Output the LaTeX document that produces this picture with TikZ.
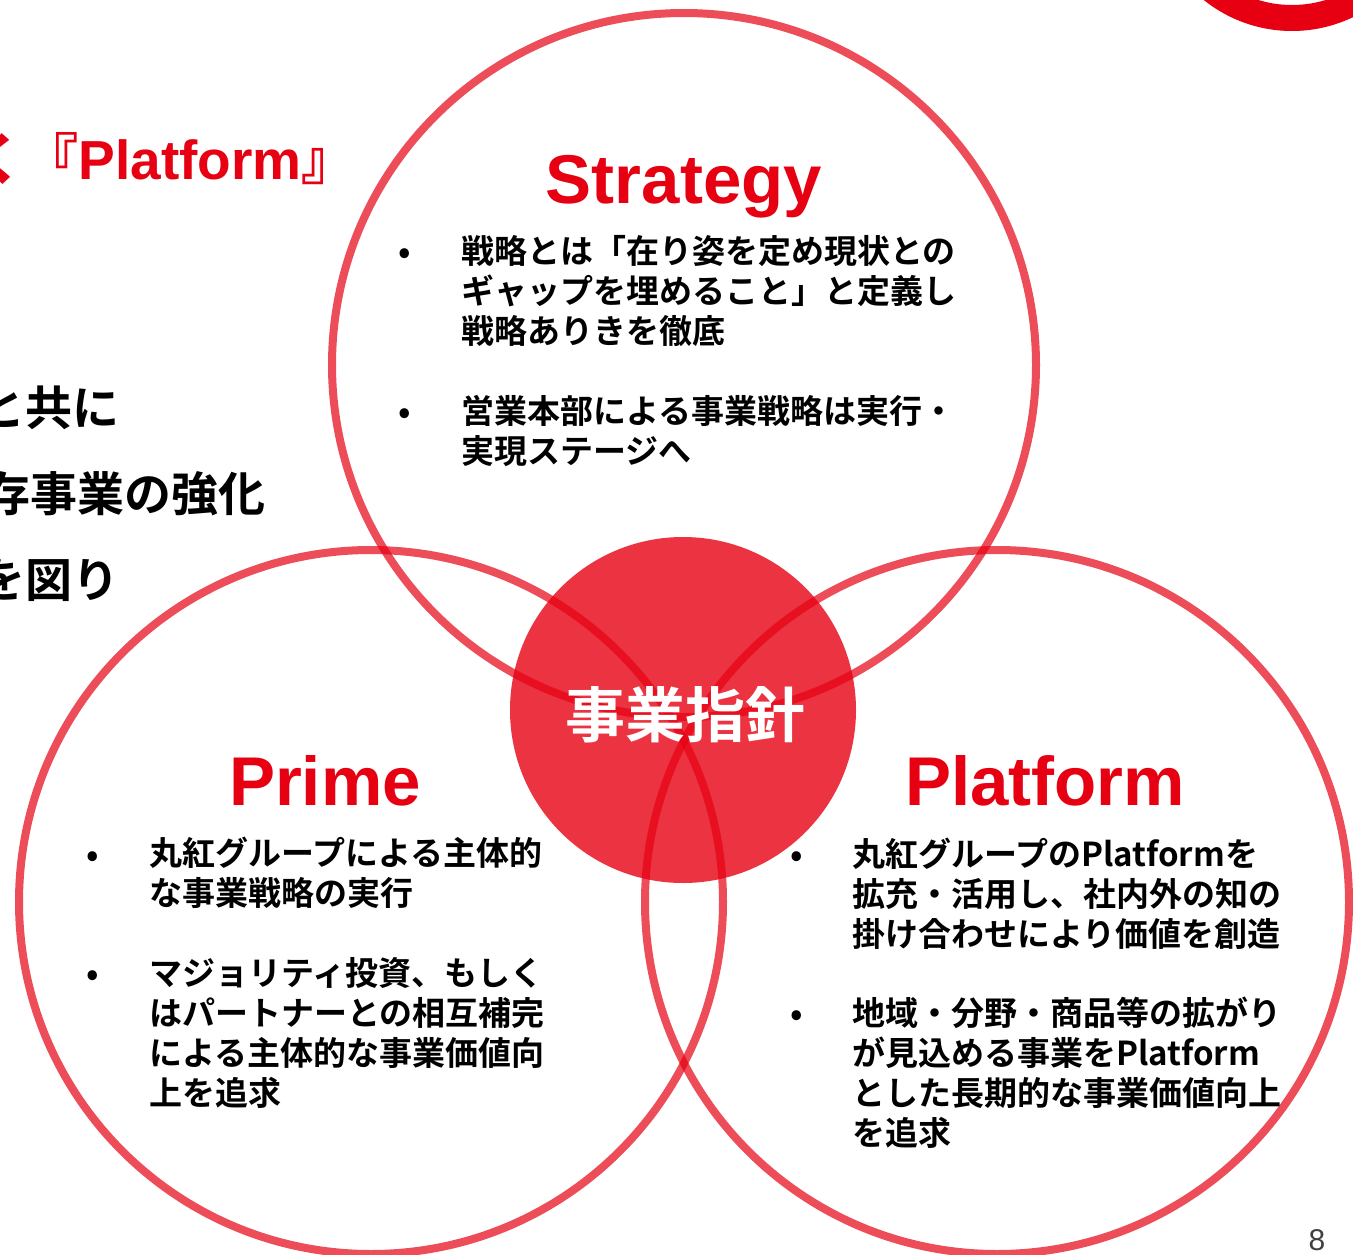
\documentclass[tikz,border=0pt]{standalone}
\usepackage{fontspec}
\setmainfont{Liberation Sans}
\newfontfamily\jpb{Noto Sans CJK JP Bold}
\definecolor{mred}{HTML}{E60012}

\begin{document}
\begin{tikzpicture}[x=1pt, y=-1pt,
    ring/.style={draw=mred, draw opacity=0.7, line width=8pt},
    head/.style={text=mred, font=\fontsize{69}{69}\selectfont\bfseries, inner sep=0, anchor=base},
    body/.style={font=\jpb\fontsize{33}{40}\selectfont, align=left, inner sep=0, anchor=base west},
    dot/.style={font=\jpb\fontsize{33}{40}\selectfont, inner sep=0, anchor=base},
    lead/.style={font=\jpb\fontsize{47}{47}\selectfont, inner sep=0, anchor=east}]
    \useasboundingbox (0,0) rectangle (1353,1255);
    % logo ring, top right
    \draw[mred, line width=26pt] (1292,-110) circle (128);
    % left column, cut by the page edge
    \node[text=mred, font=\fontsize{55}{55}\selectfont\bfseries, inner sep=0, anchor=base east]
      (slogan) at (357,179) {{\jpb く『}Platform{\jpb 』}};
    \node[lead] (lead1) at (120,408) {と共に};
    \node[lead] (lead2) at (266,494) {存事業の強化};
    \node[lead] (lead3) at (120,580) {を図り};
    % venn
    \fill[mred, fill opacity=0.8] (683,710) circle (173);
    \draw[ring] (684,365) circle (352);
    \draw[ring] (371,902) circle (352);
    \draw[ring] (997,902) circle (352);
    \node[text=white, font=\jpb\fontsize{60}{60}\selectfont, inner sep=0] (core) at (685,715) {事業指針};
    % Strategy (body nodes sit on their last baseline)
    \node[head] (strategy) at (684,203) {Strategy};
    \node[dot] (sdot1) at (405,263) {•};
    \node[body] (stxt1) at (461,343) {戦略とは「在り姿を定め現状との\\ギャップを埋めること」と定義し\\戦略ありきを徹底};
    \node[dot] (sdot2) at (405,423) {•};
    \node[body] (stxt2) at (461,463) {営業本部による事業戦略は実行・\\実現ステージへ};
    % Prime
    \node[head] (prime) at (325,805) {Prime};
    \node[dot] (pdot1) at (93,866) {•};
    \node[body] (ptxt1) at (149,905) {丸紅グループによる主体的\\な事業戦略の実行};
    \node[dot] (pdot2) at (93,985) {•};
    \node[body] (ptxt2) at (149,1105) {マジョリティ投資、もしく\\はパートナーとの相互補完\\による主体的な事業価値向\\上を追求};
    % Platform
    \node[head] (platform) at (1045,805) {Platform};
    \node[dot] (fdot1) at (797,866) {•};
    \node[body] (ftxt1) at (852,946) {丸紅グループのPlatformを\\拡充・活用し、社内外の知の\\掛け合わせにより価値を創造};
    \node[dot] (fdot2) at (797,1025) {•};
    \node[body] (ftxt2) at (852,1145) {地域・分野・商品等の拡がり\\が見込める事業をPlatform\\とした長期的な事業価値向上\\を追求};
    \node[text=black!75, font=\fontsize{30}{30}\selectfont, inner sep=0, anchor=base] (page) at (1317,1250) {8};
\end{tikzpicture}
\end{document}
